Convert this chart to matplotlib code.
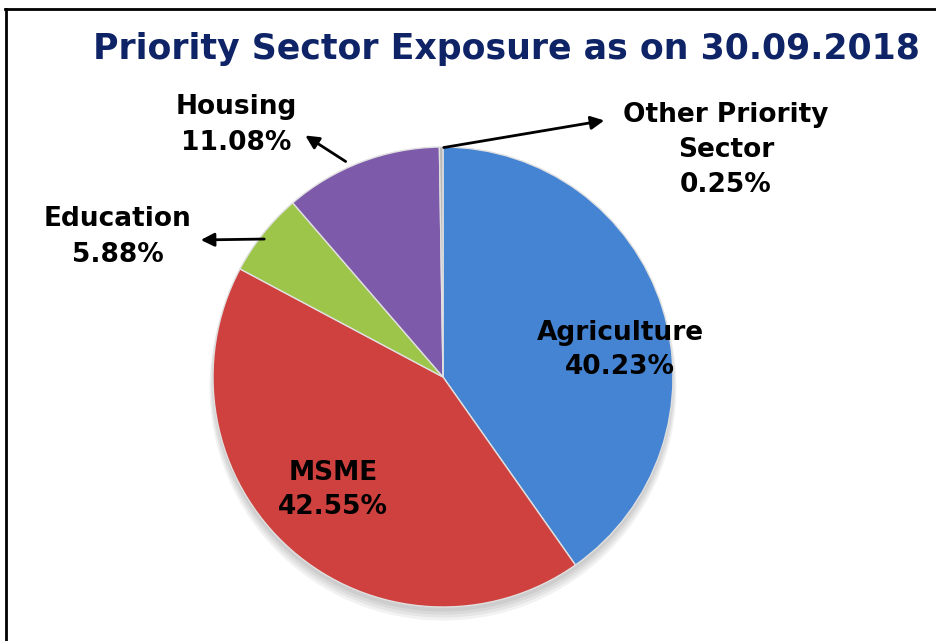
import matplotlib
matplotlib.use("Agg")
import matplotlib.pyplot as plt
from matplotlib.lines import Line2D
from matplotlib.patches import Ellipse

categories = ["Agriculture", "MSME", "Education", "Housing", "Other Priority\nSector"]
values = [40.23, 42.55, 5.88, 11.08, 0.25]
colors = ["#4584D3", "#CF413E", "#9CC54A", "#7E5BAA", "#B8B8B8"]
title = "Priority Sector Exposure as on 30.09.2018"

W, H = 936, 641
fig = plt.figure(figsize=(W / 100, H / 100), dpi=100)
fig.patch.set_facecolor("white")

# frame
fig.add_artist(Line2D([5.5 / W, 5.5 / W], [0, 1 - 9 / H], color="black", lw=2))
fig.add_artist(Line2D([5 / W, 1], [1 - 9 / H, 1 - 9 / H], color="black", lw=2))

fig.text(506 / W, 1 - 49 / H, title, ha="center", va="center", fontsize=25,
         fontweight="bold", color="#0E2467", family="DejaVu Sans")

cx, cy, r = 443, 377, 230
ax = fig.add_axes([(cx - r) / W, (H - cy - r) / H, 2 * r / W, 2 * r / H])
ax.set_xlim(-1, 1)
ax.set_ylim(-1, 1)
ax.set_aspect("equal")
ax.axis("off")

# soft shadow
for i in range(4):
    ax.add_patch(Ellipse((0.0, -0.02 - 0.008 * i), 2.0 + 0.01 * i, 2.0 + 0.01 * i,
                         color="black", alpha=0.05, lw=0, zorder=0, clip_on=False))

wedges, _ = ax.pie(values, colors=colors, startangle=90, counterclock=False,
                   radius=1.0, wedgeprops=dict(edgecolor="#E0E0E0", linewidth=1.0),
                   frame=False)
for w in wedges:
    w.set_zorder(2)
ax.set_xlim(-1, 1)
ax.set_ylim(-1, 1)

def d(px, py):
    return ((px - cx) / r, (cy - py) / r)

fs = 19
lab = dict(ha="center", va="center", fontsize=fs, fontweight="bold",
           color="black", linespacing=1.45, family="DejaVu Sans")

ax.text(*d(620, 350), f"{categories[0]}\n{values[0]:.2f}%", zorder=5, **lab)
ax.text(*d(333, 490), f"{categories[1]}\n{values[1]:.2f}%", zorder=5, **lab)
ax.text(*d(118, 237), f"{categories[2]}\n{values[2]:.2f}%", zorder=5, **lab)
ax.text(*d(236, 125), f"{categories[3]}\n{values[3]:.2f}%", zorder=5, **lab)
ax.text(*d(726, 150), f"{categories[4]}\n{values[4]:.2f}%", zorder=5, **lab)

arrow = dict(arrowstyle="-|>,head_length=0.8,head_width=0.4", color="black", lw=2)
ax.annotate("", xy=d(303, 134), xytext=d(348, 163), arrowprops=arrow, annotation_clip=False)
ax.annotate("", xy=d(607, 120), xytext=d(441, 148), arrowprops=arrow, annotation_clip=False)
ax.annotate("", xy=d(198, 240), xytext=d(267, 239), arrowprops=arrow, annotation_clip=False)

fig.savefig("out.png", dpi=100, facecolor="white")
